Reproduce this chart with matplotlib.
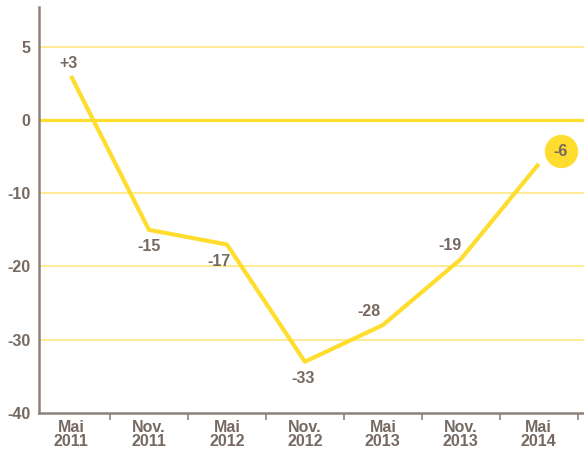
import numpy as np
import matplotlib
matplotlib.use("Agg")
import matplotlib.pyplot as plt
from matplotlib.ticker import FixedLocator
from matplotlib.transforms import offset_copy

plt.rcParams["font.family"] = ["Liberation Sans", "DejaVu Sans"]

INK = "#766962"; AXIS = "#8E817A"; GOLD = "#FFDD2E"; GRID = "#FFE680"

periods = ["Mai\n2011", "Nov.\n2011", "Mai\n2012", "Nov.\n2012", "Mai\n2013", "Nov.\n2013", "Mai\n2014"]
values = [3, -15, -17, -33, -28, -19, -6]
labels = ["+3", "-15", "-17", "-33", "-28", "-19", "-6"]
yticks = [5, 0, -10, -20, -30, -40]
# label offsets (points)
offsets = [(-2, 9), (0, -12), (-6, -12), (-1, -12), (-10, 10), (-8, 10), (16, 9)]


# positive part of the scale is stretched: 0..5 takes as much room as 0..-10
def fwd(y):
    y = np.asarray(y, dtype=float)
    return np.where(y > 0, 2 * y, y)


def inv(y):
    y = np.asarray(y, dtype=float)
    return np.where(y > 0, y / 2, y)


fig = plt.figure(figsize=(5.84, 4.49), dpi=100)
ax = fig.add_axes([0.0668, 0.0802, 0.9332, 0.904])
ax.set_yscale("function", functions=(fwd, inv))

x = np.arange(len(values))
for t in yticks[:1] + yticks[2:-1]:
    ax.axhline(t, color=GRID, lw=1.2, zorder=1)
ax.axhline(0, color=GOLD, lw=2.3, zorder=1)
ax.plot(x, values, color=GOLD, lw=3.0, solid_capstyle="butt", zorder=3)

fs = 11.5
for i, (v, lab, off) in enumerate(zip(values, labels, offsets)):
    if i == len(values) - 1:
        tr = offset_copy(ax.transData, fig=fig, x=off[0], y=off[1], units="points")
        ax.plot([x[i]], [v], "o", ms=24, color=GOLD, mec="none", transform=tr, zorder=4, clip_on=False)
    ax.annotate(lab, (x[i], v), xytext=off, textcoords="offset points",
                ha="center", va="center", color=INK, fontsize=fs, fontweight="bold", zorder=5)

ax.set_xlim(-0.41, 6.58)
ax.set_ylim(-40, 7.7)
ax.set_xticks(x)
ax.set_xticklabels(periods, fontsize=fs, fontweight="bold", color=INK, linespacing=0.95)
ax.xaxis.set_minor_locator(FixedLocator(np.arange(0.5, 7, 1)))
ax.tick_params(axis="x", which="major", length=0, pad=5)
ax.tick_params(axis="x", which="minor", length=5, width=1.2, color=AXIS)
ax.set_yticks(yticks)
ax.set_yticklabels([str(t) for t in yticks], fontsize=fs, fontweight="bold", color=INK)
ax.yaxis.set_minor_locator(FixedLocator([]))
ax.tick_params(axis="y", length=0, pad=6)

for s in ("top", "right"):
    ax.spines[s].set_visible(False)
for s in ("left", "bottom"):
    ax.spines[s].set_color(AXIS)
    ax.spines[s].set_linewidth(1.8)

fig.savefig("out.png", dpi=100, facecolor="white")
